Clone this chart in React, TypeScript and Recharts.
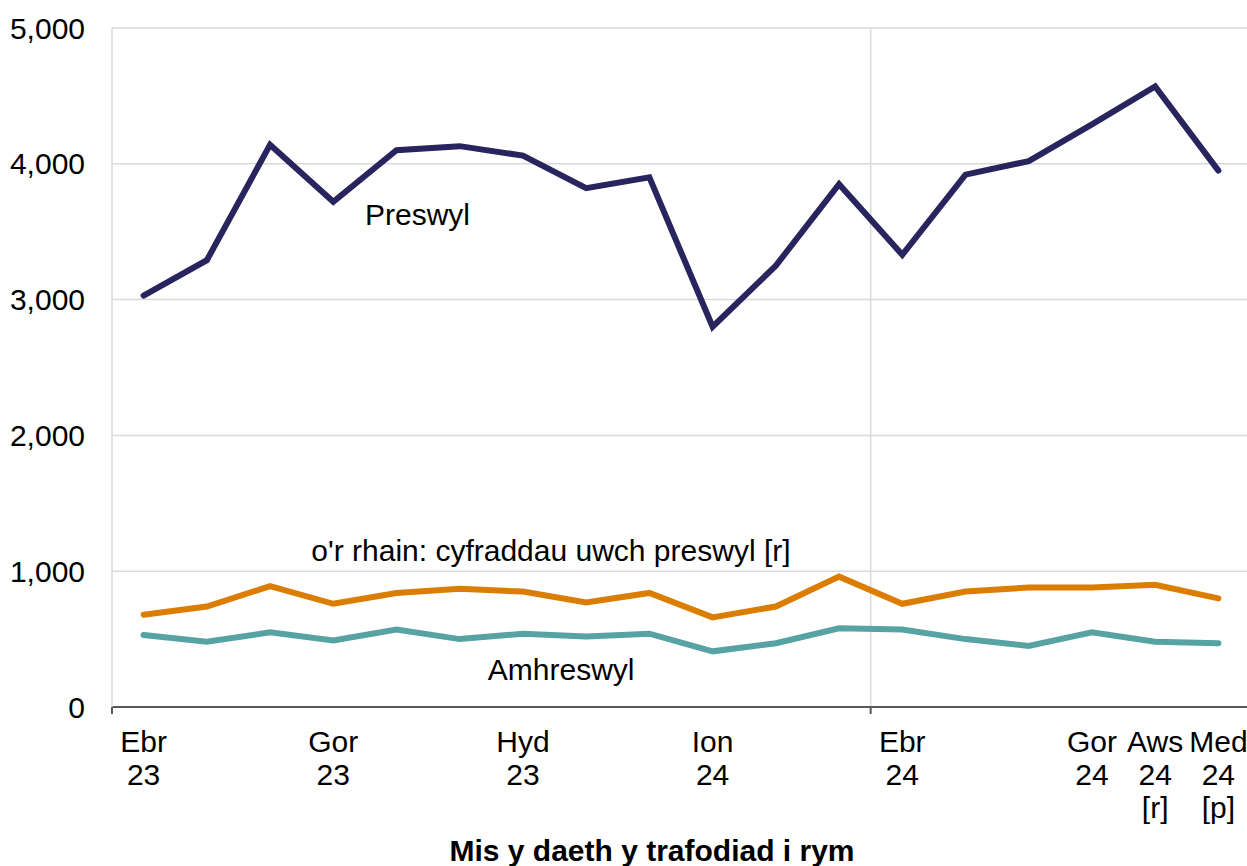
import React from "react";
import {
  ComposedChart,
  Line,
  XAxis,
  YAxis,
  CartesianGrid,
  ReferenceLine,
  ReferenceDot,
  Label,
} from "recharts";

const months = [
  "Ebr 23", "Mai 23", "Meh 23", "Gor 23", "Aws 23", "Med 23",
  "Hyd 23", "Tach 23", "Rhag 23", "Ion 24", "Chwe 24", "Maw 24",
  "Ebr 24", "Mai 24", "Meh 24", "Gor 24", "Aws 24", "Med 24",
];

const tickLabels = [
  "Ebr\n23", "", "", "Gor\n23", "", "", "Hyd\n23", "", "", "Ion\n24", "", "",
  "Ebr\n24", "", "", "Gor\n24", "Aws\n24\n[r]", "Med\n24\n[p]",
];

const preswyl = [
  3030, 3290, 4140, 3720, 4100, 4130, 4060, 3820, 3900,
  2800, 3250, 3850, 3330, 3920, 4020, 4290, 4570, 3950,
];

const cyfraddauUwch = [
  680, 740, 890, 760, 840, 870, 850, 770, 840,
  660, 740, 960, 760, 850, 880, 880, 900, 800,
];

const amhreswyl = [
  530, 480, 550, 490, 570, 500, 540, 520, 540,
  410, 470, 580, 570, 500, 450, 550, 480, 470,
];

const yTicks = [0, 1000, 2000, 3000, 4000, 5000];
const yearStarts = [0, 12];

const FONT = "'Liberation Sans', Arial, sans-serif";
const FS = 30;

const data = months.map((month, i) => ({
  month,
  preswyl: preswyl[i],
  uwch: cyfraddauUwch[i],
  amhreswyl: amhreswyl[i],
}));

function MonthTick(props: any) {
  const { x, y, payload, index } = props;
  const lines = tickLabels[index] ? tickLabels[index].split("\n") : [];
  const half = payload && payload.offset ? payload.offset : 0;
  return (
    <g>
      {yearStarts.includes(index) && (
        <line x1={x - half} x2={x - half} y1={y} y2={y + 7} stroke="#595959" strokeWidth={2} />
      )}
      <text x={x} y={y} textAnchor="middle" fontSize={FS} fontFamily={FONT} fill="#000">
        {lines.map((l, i) => (
          <tspan key={i} x={x} dy={i === 0 ? 45 : 33}>
            {l}
          </tspan>
        ))}
      </text>
    </g>
  );
}

function seriesLabel(text: string, dx: number) {
  return (p: any) => (
    <text
      x={p.cx + dx}
      y={p.cy}
      dy="0.355em"
      textAnchor="middle"
      fontSize={FS}
      fontFamily={FONT}
      fill="#000"
    >
      {text}
    </text>
  );
}

export default function App() {
  return (
    <div style={{ position: "absolute", left: 0, top: 0, width: 1247, height: 866, overflow: "hidden", background: "#fff" }}>
      <ComposedChart
        width={1250}
        height={866}
        data={data}
        margin={{ top: 28, right: 0, bottom: 0, left: 0 }}
      >
        <CartesianGrid vertical={false} stroke="#d9d9d9" strokeWidth={1.5} />
        <XAxis
          dataKey="month"
          scale="band"
          interval={0}
          tickLine={false}
          tickSize={0}
          tickMargin={0}
          height={159}
          axisLine={{ stroke: "#595959", strokeWidth: 2 }}
          tick={<MonthTick />}
        >
          <Label
            value="Mis y daeth y trafodiad i rym"
            position="insideBottom"
            offset={5}
            dx={-29}
            fontSize={FS}
            fontWeight="bold"
            fontFamily={FONT}
            fill="#000"
          />
        </XAxis>
        <YAxis
          width={112}
          domain={[0, 5000]}
          ticks={yTicks}
          interval={0}
          tickLine={false}
          tickSize={6}
          tickMargin={21}
          axisLine={{ stroke: "#d9d9d9", strokeWidth: 1.5 }}
          tick={{ fontSize: FS, fontFamily: FONT, fill: "#000" }}
          tickFormatter={(v: number) => v.toLocaleString("en-GB")}
        />
        <ReferenceLine x={months[12]} position="start" stroke="#d9d9d9" strokeWidth={1.5} />
        <Line
          dataKey="amhreswyl"
          stroke="#57a2a2"
          strokeWidth={6}
          dot={false}
          strokeLinecap="round"
          isAnimationActive={false}
        />
        <Line
          dataKey="uwch"
          stroke="#db7d00"
          strokeWidth={6}
          dot={false}
          strokeLinecap="round"
          isAnimationActive={false}
        />
        <Line
          dataKey="preswyl"
          stroke="#28245e"
          strokeWidth={6}
          dot={false}
          strokeLinecap="round"
          isAnimationActive={false}
        />
        <ReferenceDot x={months[4]} y={3630} r={0} shape={seriesLabel("Preswyl", 21)} />
        <ReferenceDot x={months[6]} y={1155} r={0} shape={seriesLabel("o'r rhain: cyfraddau uwch preswyl [r]", 28)} />
        <ReferenceDot x={months[7]} y={278} r={0} shape={seriesLabel("Amhreswyl", -25)} />
      </ComposedChart>
    </div>
  );
}
